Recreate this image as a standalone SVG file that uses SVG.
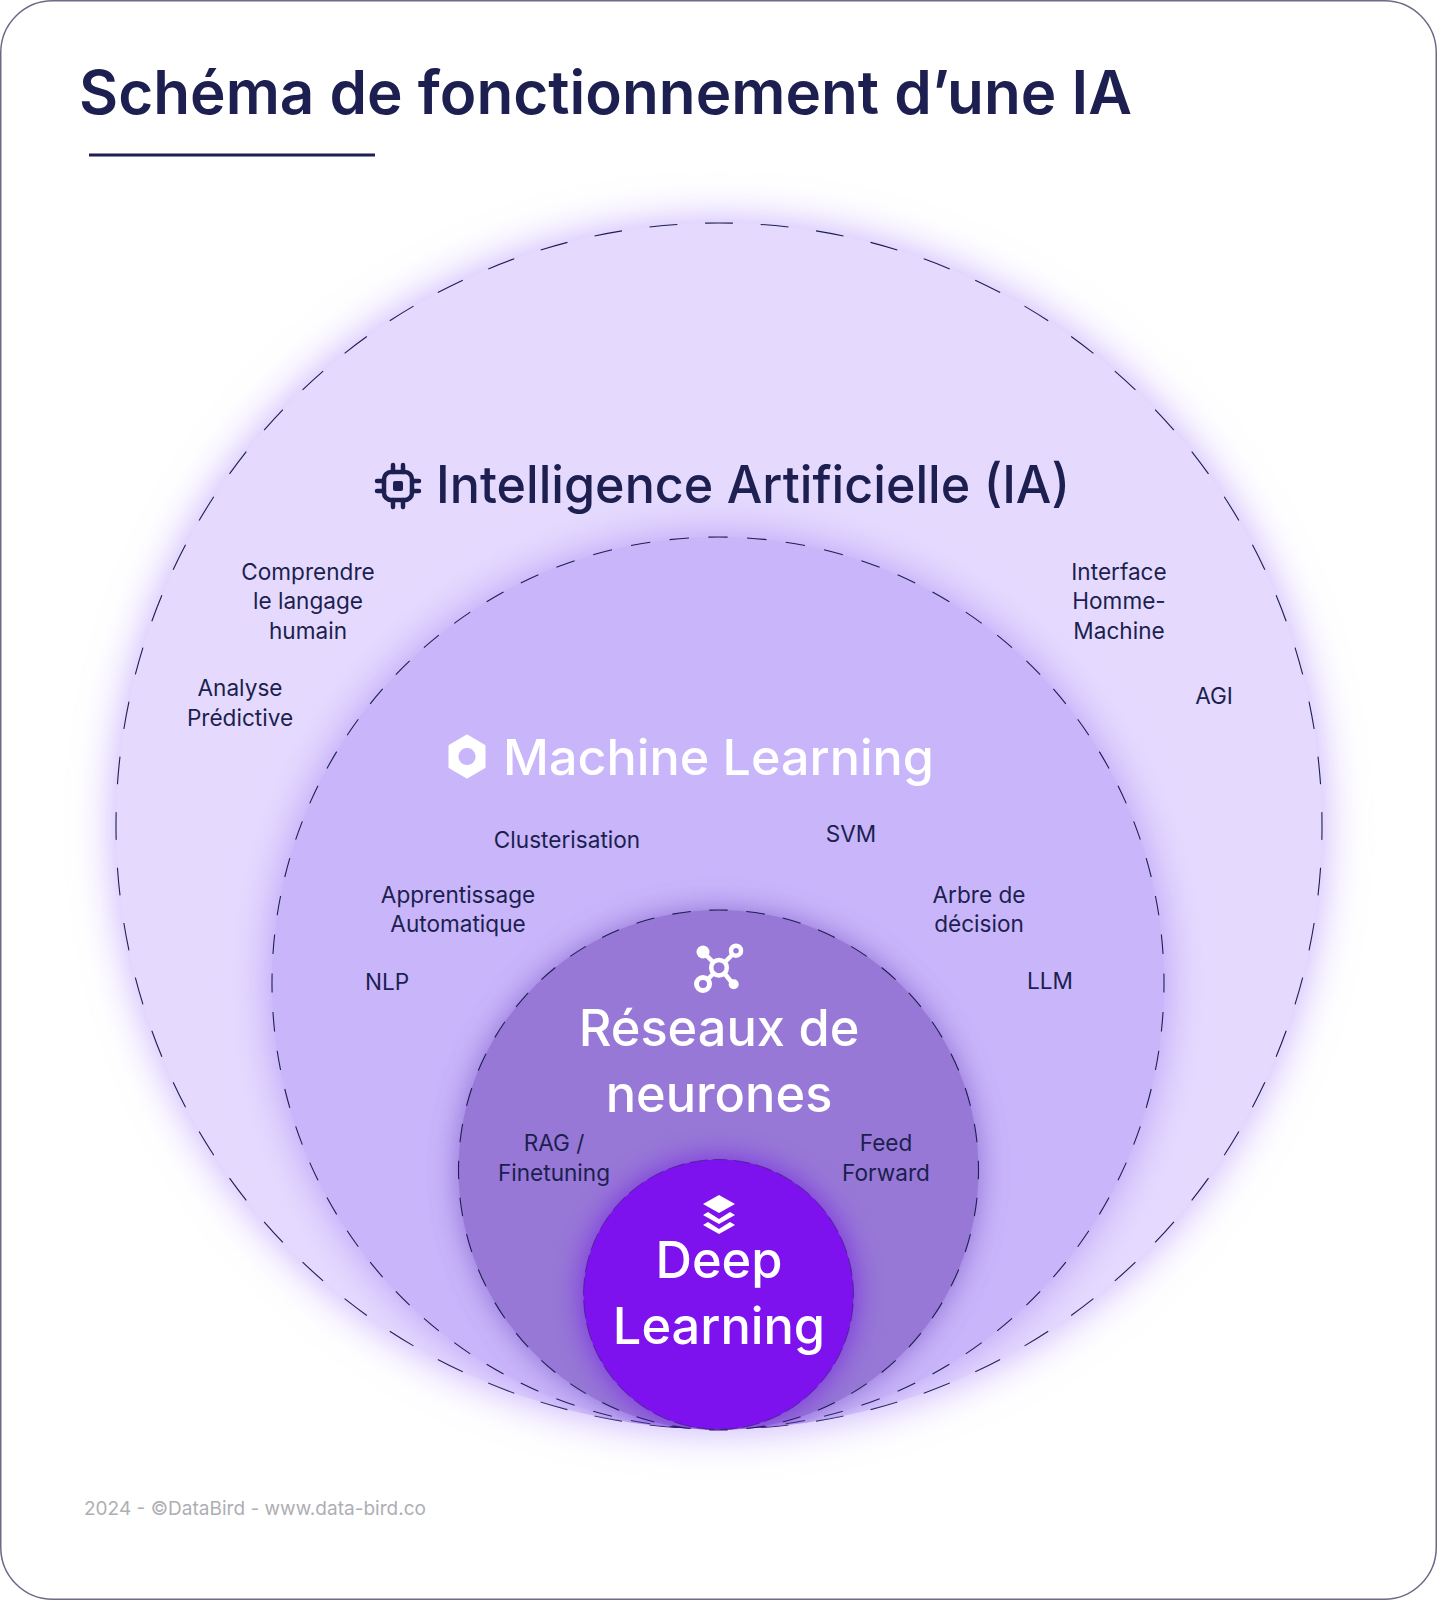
<svg xmlns="http://www.w3.org/2000/svg" width="1437" height="1600" viewBox="0 0 1437 1600">
<style>
text{font-family:Inter,"Liberation Sans",sans-serif}
.lbl{font-size:22.6px;fill:#1c1f4f;text-anchor:middle}
.ring{fill:none;stroke:#1c1f4f;stroke-width:1.1;stroke-dasharray:1 1;stroke-dashoffset:.5}
.big{font-size:50.5px;fill:#fff;font-weight:500;text-anchor:middle}
.ic{fill:none;stroke:#fff;stroke-width:4.5}
</style>
<defs><filter id="glow" x="-20%" y="-20%" width="140%" height="140%"><feGaussianBlur stdDeviation="22"/></filter>
<filter id="glow2" x="-30%" y="-30%" width="160%" height="160%"><feGaussianBlur stdDeviation="15"/></filter>
<clipPath id="inside"><circle cx="719" cy="826" r="603"/></clipPath></defs>
<rect id="frame" x="0.75" y="0.75" width="1435.5" height="1598.5" rx="52" fill="#fff" stroke="#6a6b85" stroke-width="1.5"/>
<g id="title"><text x="79" y="114" font-size="60" font-weight="600" fill="#1c1f4f" textLength="1053" lengthAdjust="spacingAndGlyphs">Schéma de fonctionnement d’une IA</text>
<rect x="89" y="153.500" width="286" height="3" fill="#1c1f4f"/></g>
<g id="node-ia">
<circle cx="719" cy="826" r="603" fill="#c4aafc" filter="url(#glow)"/>
<circle cx="719" cy="826" r="603" fill="#e5dafe"/>
<circle cx="719" cy="826" r="603" class="ring" pathLength="136" transform="rotate(-90 719 826)"/>
<g transform="translate(398,486)" fill="none" stroke="#1c1f4f" stroke-width="4.500" stroke-linecap="round"><rect x="-14" y="-14" width="28" height="28" rx="7"/><rect x="-5" y="-5" width="10" height="10" rx="2" fill="#1c1f4f" stroke="none"/><path d="M-5-14v-7M5-14v-7M-5 14v7M5 14v7M-14-5h-7M-14 5h-7M14-5h7M14 5h7"/></g>
<text x="436" y="503" font-size="52" font-weight="500" fill="#1c1f4f" textLength="634" lengthAdjust="spacingAndGlyphs">Intelligence Artificielle (IA)</text>
<text class="lbl" x="308" y="579.700">Comprendre</text><text class="lbl" x="308" y="609">le langage</text><text class="lbl" x="308" y="638.500">humain</text>
<text class="lbl" x="240" y="696">Analyse</text><text class="lbl" x="240" y="725.500">Prédictive</text>
<text class="lbl" x="1119" y="579.700">Interface</text><text class="lbl" x="1119" y="609">Homme-</text><text class="lbl" x="1119" y="638.500">Machine</text>
<text class="lbl" x="1214" y="703.700">AGI</text>
</g>
<g id="node-ml">
<g clip-path="url(#inside)"><circle cx="718" cy="983" r="446" fill="#b49af7" filter="url(#glow)"/></g>
<circle cx="718" cy="983" r="446" fill="#c9b5fa"/>
<circle cx="718" cy="983" r="446" class="ring" pathLength="144" transform="rotate(-90 718 983)"/>
<path d="M467 736 484 746V767L467 777 450 767V746Z M467 746.500a10 10 0 1 0 .01 0Z" fill="#fff" fill-rule="evenodd" stroke="#fff" stroke-width="3" stroke-linejoin="round"/>
<text x="503" y="775" font-size="50" font-weight="500" fill="#fff" textLength="431" lengthAdjust="spacingAndGlyphs">Machine Learning</text>
<text class="lbl" x="567" y="847.700">Clusterisation</text>
<text class="lbl" x="851" y="842">SVM</text>
<text class="lbl" x="458" y="902.700">Apprentissage</text><text class="lbl" x="458" y="932">Automatique</text>
<text class="lbl" x="979" y="902.700">Arbre de</text><text class="lbl" x="979" y="932">décision</text>
<text class="lbl" x="387" y="990">NLP</text>
<text class="lbl" x="1050" y="989">LLM</text>
</g>
<g id="node-nn">
<g clip-path="url(#inside)"><circle cx="718.500" cy="1170" r="260" fill="#7a55c8" opacity=".75" filter="url(#glow2)"/></g>
<circle cx="718.500" cy="1170" r="260" fill="#9778d6"/>
<circle cx="718.500" cy="1170" r="260" class="ring" pathLength="88" transform="rotate(-90 718.500 1170)"/>
<g class="ic"><circle cx="719" cy="967.700" r="7.800"/><circle cx="736" cy="950.700" r="5"/><circle cx="703" cy="984" r="6.500" stroke-width="5"/><path d="M713 962 704 953M725 962 732 955M713 974 708 979M725 974 733 984"/></g>
<circle cx="703" cy="952" r="6.500" fill="#fff"/><circle cx="733.700" cy="984.300" r="5" fill="#fff"/>
<text class="big" x="719" y="1046">Réseaux de</text><text class="big" x="719" y="1112">neurones</text>
<text class="lbl" x="554" y="1151">RAG /</text><text class="lbl" x="554" y="1180.500">Finetuning</text>
<text class="lbl" x="886" y="1151">Feed</text><text class="lbl" x="886" y="1180.500">Forward</text>
</g>
<g id="node-dl">
<g clip-path="url(#inside)"><circle cx="718.500" cy="1294.500" r="135" fill="#6a10e8" opacity=".65" filter="url(#glow2)"/></g>
<circle cx="718.500" cy="1294.500" r="135" fill="#7e12ef"/>
<circle cx="718.500" cy="1294.500" r="135" fill="none" stroke="#1c1f4f" stroke-width=".9" opacity=".6" stroke-dasharray="18 5" stroke-dashoffset="9" transform="rotate(-90 718.500 1294.500)"/>
<path d="M719 1195 735 1204 719 1213 703 1204ZM708 1212 719 1219 730 1212 735 1215 719 1224 703 1215ZM708 1222 719 1229 730 1222 735 1225 719 1234 703 1225Z" fill="#fff"/>
<text class="big" x="719" y="1278">Deep</text><text class="big" x="719" y="1344">Learning</text>
</g>
<text id="credit" x="84" y="1515" font-size="19" fill="#aeaeb4" textLength="342">2024 - ©DataBird - www.data-bird.co</text>
</svg>
